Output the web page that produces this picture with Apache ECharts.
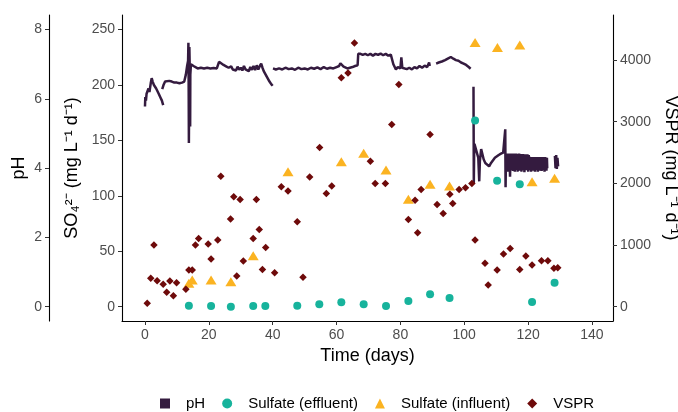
<!DOCTYPE html>
<html><head><meta charset="utf-8">
<script src="https://cdn.jsdelivr.net/npm/echarts@6/dist/echarts.min.js"></script>
<style>html,body{margin:0;padding:0;background:#fff}#c{width:678px;height:412px}</style>
</head><body><div id="c"></div>
<script>
// ---- tick labels ----
const xTicks = [0, 20, 40, 60, 80, 100, 120, 140];
const so4Ticks = [0, 50, 100, 150, 200, 250];
const phTicks = [0, 2, 4, 6, 8];
const vsprTicks = [0, 1000, 2000, 3000, 4000];

// ---- Sulfate (effluent) ----
const effluentDays = [13.75, 20.7, 26.9, 33.9, 37.7, 47.7, 54.6, 61.5, 68.5, 75.5, 82.5, 89.3, 95.4, 103.4, 110.3, 117.4, 121.25, 128.3];
const effluentSO4  = [0.9, 0.6, 0.0, 0.6, 0.6, 0.9, 2.2, 4.0, 2.2, 0.6, 5.1, 11.2, 7.9, 167.9, 113.7, 110.5, 4.2, 21.7];

// ---- Sulfate (influent) ----
const influentDays = [13.75, 14.8, 20.7, 26.9, 33.9, 44.8, 61.5, 68.5, 75.5, 82.5, 89.3, 95.4, 103.4, 110.4, 117.4, 121.25, 128.3];
const influentSO4  = [21.1, 24.1, 24.1, 22.6, 46.0, 121.8, 130.9, 138.4, 123.4, 96.9, 110.5, 108.9, 238.3, 233.8, 236.2, 112.8, 115.9];

// ---- VSPR ----
const vsprDays = [0.7, 1.8, 2.8, 3.8, 5.7, 6.8, 7.8, 8.9, 9.9, 12.8, 13.75, 14.8, 15.8, 16.8, 19.8, 20.7, 22.8, 23.75, 26.8, 27.8, 28.75, 29.8, 30.8, 33.9, 34.9, 35.8, 36.8, 37.8, 40.6, 42.7, 44.8, 47.7, 49.5, 51.6, 54.7, 56.8, 58.5, 61.5, 63.6, 65.6, 70.6, 72.1, 75.3, 77.3, 79.5, 82.5, 84.6, 85.4, 86.5, 89.3, 91.5, 93.4, 95.5, 96.4, 98.4, 100.4, 102.4, 103.4, 106.5, 107.5, 110.3, 112.3, 114.4, 117.4, 119.3, 121.25, 124.2, 126.2, 128.1, 129.3];
const vsprValues = [55, 460, 999, 421, 363, 233, 416, 178, 389, 282, 594, 594, 999, 1107, 1015, 772, 1080, 2116, 1420, 1781, 497, 1739, 740, 1107, 1739, 1253, 605, 961, 550, 1943, 1878, 1376, 476, 2105, 2581, 1836, 1959, 3714, 3788, 4274, 2359, 1998, 1998, 2953, 3605, 1415, 1727, 1198, 1900, 2791, 1658, 1512, 1825, 1674, 1900, 1927, 1998, 1080, 703, 351, 594, 853, 945, 605, 821, 675, 745, 745, 622, 631];

// ---- pH (null = break in the record) ----
const phDays = [
 0.0,0.1,0.3,0.5,0.8,1.1,1.4,1.8,2.1,2.4,2.8,3.1,3.5,3.9,4.3,4.8,5.3,5.7,5.7,
 5.4,5.8,6.3,6.9,7.6,8.4,9.2,10,10.8,11.6,12.3,12.8,13.2,13.5,13.6,13.65,13.7,13.75,13.8,13.85,13.9,14.05,14.1,14.15,14.2,14.4,14.7,15.2,15.8,16.5,17.5,18.5,19.5,20.5,21.5,22.5,23.0,23.2,23.8,24.6,25.4,26.2,26.6,27.0,27.5,28.0,28.5,29.0,29.5,30.0,30.5,31.0,31.5,32.0,32.5,33.0,33.5,34.0,34.5,35.0,35.5,36.0,36.4,36.8,37.2,37.8,38.4,39.0,39.6,40.0,40.0,
 40.1,41,42,43,44,45,46,47,48,49,50,51,52,53,54,55,56,57,58,59,60,60.8,61.2,61.6,62.2,62.8,63.4,64.2,65,65.8,66.6,66.8,67.5,68.2,69,69.8,70.6,71.4,72.2,73,73.8,74.6,75.4,76.2,77,77.6,77.8,78.2,78.6,79.2,80.0,80.3,80.6,81.2,82.0,82.8,83.6,84.4,85.2,86,86.8,87.6,88.4,89.0,89.2,89.2,
 91.2,92,93,94,95,95.8,96.6,97.4,98.2,99,99.8,100.6,101.4,102,102,
 102.9,102.95,103.0,103.1,103.2,103.5,104.0,104.4,104.7,104.9,105.3,105.7,106.1,106.6,107.2,107.8,108.4,109,109.6,110.2,110.8,111.5,112.2,112.7,112.85,112.95,113.1,
 113.3,113.45,113.6,113.75,113.9,114.05,114.2,114.35,114.5,114.65,114.8,114.95,115.1,115.25,115.4,115.55,115.7,115.85,116.0,116.15,116.3,116.45,116.6,116.75,116.9,117.05,117.2,117.35,117.5,117.65,117.8,117.95,118.1,118.25,118.4,118.55,118.7,118.85,119.0,119.15,119.3,119.45,119.6,119.75,119.9,120.05,120.2,120.35,120.5,120.65,120.8,120.95,121.1,121.25,121.4,121.55,121.7,121.85,122.0,122.15,122.3,122.45,122.6,122.75,122.9,123.05,123.2,123.35,123.5,123.65,123.8,123.95,124.1,124.25,124.4,124.55,124.7,124.85,125.0,125.15,125.3,125.45,125.6,125.75,125.9,126.0,126.0,
 128.4,128.6,128.8,129.0,129.2,129.4
];
const phValues = [
 5.78,6.05,5.95,6.15,6.1,6.3,6.2,6.45,6.6,6.5,6.4,6.45,6.3,6.25,6.15,6.05,5.95,5.82,null,
 6.28,6.4,6.5,6.55,6.52,6.5,6.47,6.47,6.45,6.47,6.5,6.7,6.95,7.1,7.62,7.0,6.0,4.73,5.5,6.6,7.5,7.55,6.5,5.2,6.7,7.0,7.05,6.95,6.9,6.88,6.9,6.88,6.9,6.88,6.89,6.88,6.88,7.07,7.02,6.98,6.94,6.9,6.85,6.94,6.85,6.9,6.82,6.93,6.84,6.9,6.82,6.95,6.85,6.9,6.8,6.92,6.84,6.95,6.83,6.97,6.85,6.96,7.02,6.9,6.8,6.7,6.6,6.5,6.42,6.38,null,
 6.88,6.85,6.88,6.85,6.9,6.86,6.88,6.84,6.9,6.86,6.88,6.85,6.9,6.87,6.91,6.86,6.92,6.87,6.9,6.88,6.92,6.95,7.03,6.98,6.93,6.92,6.88,6.9,6.92,6.95,6.97,7.3,7.3,7.27,7.3,7.26,7.3,7.25,7.3,7.27,7.31,7.26,7.3,7.25,7.28,7.26,7.0,7.05,6.85,6.92,6.88,7.2,6.9,6.93,6.86,6.9,6.85,6.92,6.88,6.95,6.9,6.96,6.92,7.05,6.95,null,
 7.02,7.05,7.08,7.12,7.17,7.21,7.16,7.12,7.1,7.05,7.02,6.98,6.92,6.87,null,
 6.35,5.0,3.57,4.4,4.7,4.6,4.55,4.3,3.62,4.2,4.55,4.6,4.25,4.15,4.1,4.05,4.15,4.2,4.3,4.33,4.38,4.42,4.45,4.5,5.12,3.45,4.42,
 4.42,3.95,4.42,3.9,4.42,4.0,4.42,3.75,4.42,3.95,4.41,4.0,4.42,3.92,4.41,3.98,4.42,3.9,4.41,4.02,4.42,3.95,4.4,3.9,4.41,4.0,4.42,3.93,4.4,3.98,4.41,3.9,4.4,4.02,4.41,3.95,4.4,3.88,4.4,4.0,4.4,3.94,4.4,3.98,4.39,3.9,4.38,4.0,4.33,3.95,4.32,3.9,4.32,4.0,4.31,3.93,4.32,3.98,4.31,3.9,4.32,4.02,4.31,3.95,4.32,3.9,4.31,4.0,4.32,3.93,4.31,3.98,4.32,3.92,4.31,4.0,4.32,3.95,4.31,3.9,4.32,3.98,4.31,3.93,4.3,4.0,null,
 4.35,4.0,4.38,3.98,4.3,4.05
];

const FONT = '"Liberation Sans", Arial, Helvetica, sans-serif';
const zip = (a, b) => a.map((v, i) => [v, b[i] == null ? '-' : b[i]]);

function yAx(o) {
  return Object.assign({
    type: 'value',
    axisLine: { show: true, onZero: false, lineStyle: { color: '#000', width: 1.1 } },
    axisTick: { show: true, length: 4, lineStyle: { color: '#333' }, customValues: o.ticks },
    axisLabel: { customValues: o.ticks, color: '#4d4d4d', fontSize: 14, margin: 7, fontFamily: FONT,
                 formatter: v => String(v) },
    splitLine: { show: false },
    nameLocation: 'middle',
    nameTextStyle: { color: '#000', fontSize: 18, fontFamily: FONT }
  }, o.extra);
}

const chart = echarts.init(document.getElementById('c'), null, { renderer: 'canvas' });
chart.setOption({
  animation: false,
  backgroundColor: '#fff',
  textStyle: { fontFamily: FONT },
  grid: { left: 122, right: 65, top: 15, bottom: 91, containLabel: false, outerBoundsMode: 'none' },
  xAxis: {
    type: 'value', min: -7.2, max: 146.6,
    axisLine: { show: true, onZero: false, lineStyle: { color: '#000', width: 1.1 } },
    axisTick: { show: true, length: 4, lineStyle: { color: '#333' }, customValues: xTicks },
    axisLabel: { customValues: xTicks, color: '#4d4d4d', fontSize: 14, margin: 7, fontFamily: FONT },
    splitLine: { show: false },
    name: 'Time (days)', nameLocation: 'middle', nameGap: 24,
    nameTextStyle: { color: '#000', fontSize: 18, fontFamily: FONT }
  },
  yAxis: [
    yAx({ ticks: so4Ticks, extra: { position: 'left', offset: 0, min: -12.9, max: 263.2,
      name: 'SO\u2084\u00B2\u207B (mg L\u207B\u00B9 d\u207B\u00B9)', nameGap: 40, nameRotate: 90 } }),
    yAx({ ticks: phTicks, extra: { position: 'left', offset: 73, min: -0.4128, max: 8.4224,
      name: 'pH', nameGap: 21, nameRotate: 90, nameMoveOverlap: false } }),
    yAx({ ticks: vsprTicks, extra: { position: 'right', offset: 0, min: -232, max: 4730,
      name: 'VSPR (mg L\u207B\u00B9 d\u207B\u00B9)', nameGap: 46, nameRotate: -90 } })
  ],
  legend: {
    left: 155, top: 391, itemGap: 17, itemWidth: 10, itemHeight: 10,
    textStyle: { fontSize: 15, color: '#000', fontFamily: FONT, padding: [0, 0, 0, 11] },
    data: [
      { name: 'pH', icon: 'rect' },
      { name: 'Sulfate (effluent)', icon: 'circle' },
      { name: 'Sulfate (influent)', icon: 'triangle' },
      { name: 'VSPR', icon: 'diamond' }
    ]
  },
  series: [
    { name: 'pH', type: 'line', yAxisIndex: 1, data: zip(phDays, phValues),
      symbol: 'none', showSymbol: false, connectNulls: false, sampling: null,
      lineStyle: { color: '#341b3f', width: 2.5 }, itemStyle: { color: '#341b3f' }, z: 1 },
    { name: 'Sulfate (effluent)', type: 'scatter', yAxisIndex: 0, data: zip(effluentDays, effluentSO4),
      symbol: 'circle', symbolSize: 8, itemStyle: { color: '#17b39c', opacity: 1 }, z: 2 },
    { name: 'Sulfate (influent)', type: 'scatter', yAxisIndex: 0, data: zip(influentDays, influentSO4),
      symbol: 'triangle', symbolSize: [11, 9], itemStyle: { color: '#fbb321', opacity: 1 }, z: 3 },
    { name: 'VSPR', type: 'scatter', yAxisIndex: 2, data: zip(vsprDays, vsprValues),
      symbol: 'diamond', symbolSize: 7.5, itemStyle: { color: '#6e0a0a', opacity: 1 }, z: 4 }
  ]
});
</script>
</body></html>
